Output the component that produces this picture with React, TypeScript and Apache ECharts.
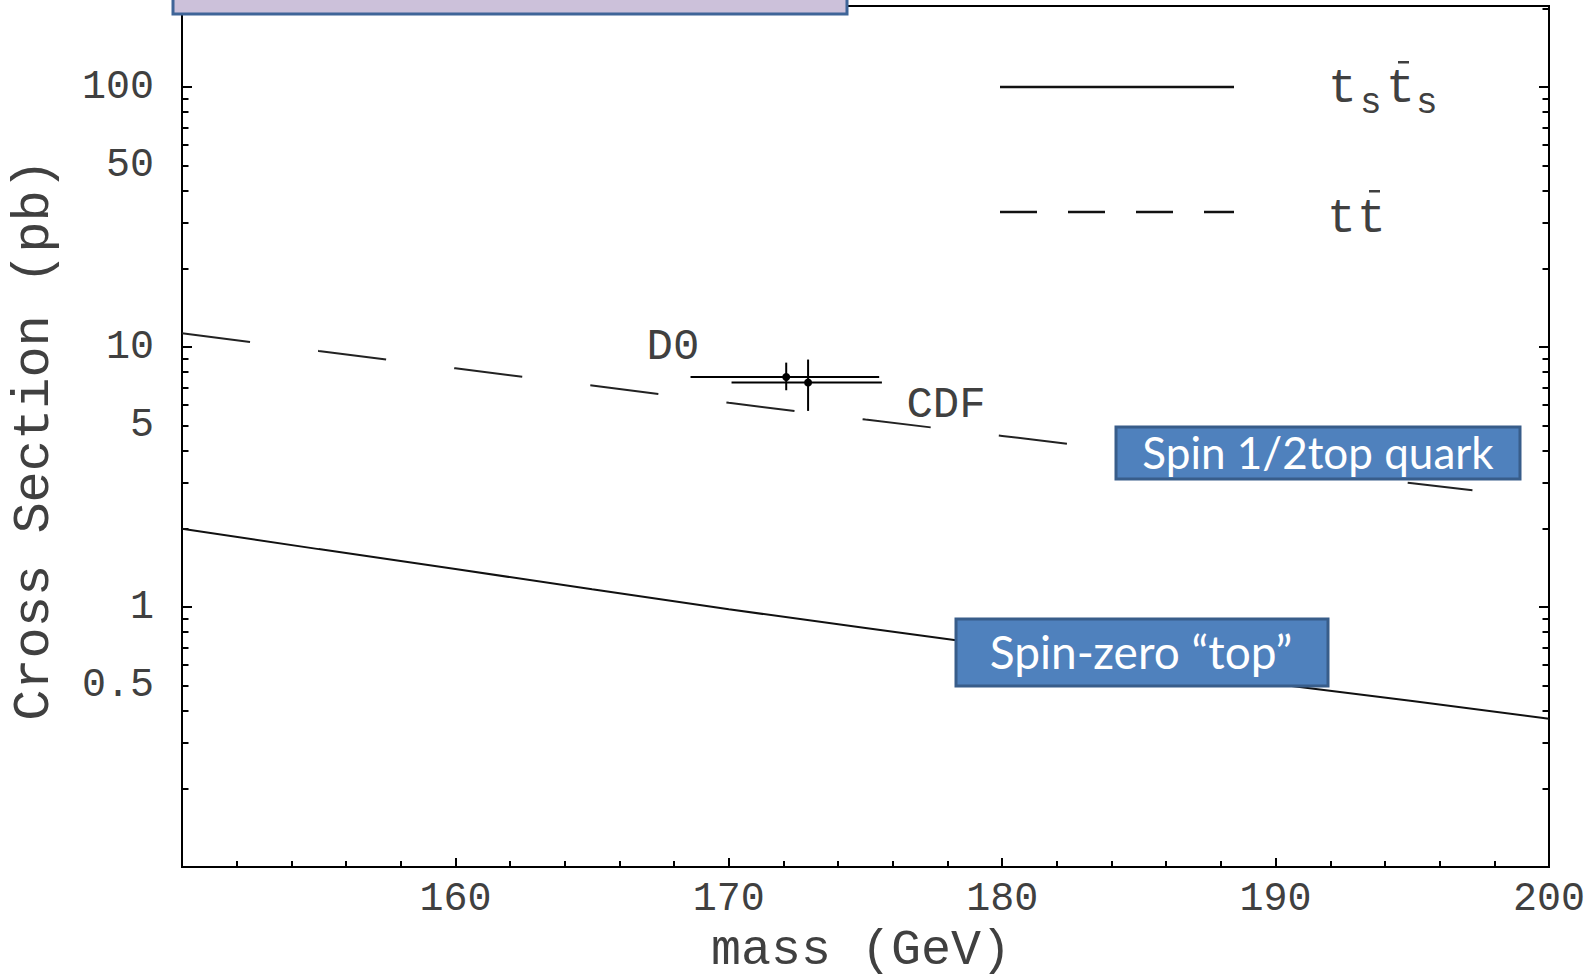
import React, { useEffect, useRef } from "react";
import * as echarts from "echarts";

// ---- data ----
const massGrid = [150, 155, 160, 165, 170, 175, 180, 185, 190, 195, 200];
const spinZeroXs = [2.0, 1.67, 1.4, 1.17, 0.98, 0.83, 0.705, 0.597, 0.506, 0.435, 0.372];
const ttMass = [150, 155, 160, 165, 170, 175, 180, 185, 190, 195, 197.2];
const ttXs = [11.3, 9.66, 8.28, 7.11, 6.1, 5.26, 4.55, 3.94, 3.43, 2.99, 2.81];

const expNames = ["D0", "CDF"];
const expMass = [172.1, 172.9];
const expXs = [7.67, 7.3];
const expMassLo = [168.6, 170.1];
const expMassHi = [175.5, 175.6];
const expXsLo = [6.82, 5.68];
const expXsHi = [8.71, 8.95];

const xTickLabels = [160, 170, 180, 190, 200];
const yLabelValues = [0.5, 1, 5, 10, 50, 100];
const yMajorTicks = [1, 10, 100];
const yMinorTicks = [
  0.2, 0.3, 0.4, 0.5, 0.6, 0.7, 0.8, 0.9,
  2, 3, 4, 5, 6, 7, 8, 9,
  20, 30, 40, 50, 60, 70, 80, 90, 200,
];

const MONO = "'Liberation Mono', 'DejaVu Sans Mono', monospace";
const SANS = "Lato, 'Open Sans', sans-serif";
const TXT = "#404040";

function yAxisDef(position: "left" | "right", ticks: number[], len: number, labels: boolean) {
  return {
    type: "log",
    logBase: 10,
    min: 0.1,
    max: 205,
    position,
    axisLine: { show: true, lineStyle: { color: "#000", width: 2 } },
    axisTick: {
      show: true,
      inside: true,
      length: len,
      customValues: ticks,
      lineStyle: { color: "#000", width: 2 },
    },
    minorTick: { show: false },
    splitLine: { show: false },
    axisLabel: labels
      ? {
          show: true,
          customValues: yLabelValues,
          margin: 28,
          fontFamily: MONO,
          fontSize: 40,
          color: TXT,
          formatter: (v: number) => String(v),
        }
      : { show: false },
  };
}

export default function App() {
  const ref = useRef<HTMLDivElement>(null);
  useEffect(() => {
    if (!ref.current) return;
    const chart = echarts.init(ref.current, undefined, { renderer: "svg" });

    const solidData = massGrid.map((m, i) => [m, spinZeroXs[i]]);
    const dashData = ttMass.map((m, i) => [m, ttXs[i]]);
    const expData = expMass.map((m, i) => [m, expXs[i], expMassLo[i], expMassHi[i], expXsLo[i], expXsHi[i]]);

    chart.setOption({
      animation: false,
      backgroundColor: "#fff",
      grid: {
        left: 182,
        right: 46,
        top: 6,
        bottom: 113,
        show: true,
        borderColor: "#000",
        borderWidth: 2,
        containLabel: false,
      },
      xAxis: {
        type: "value",
        min: 150,
        max: 200,
        interval: 10,
        axisLine: { show: true, lineStyle: { color: "#000", width: 2 } },
        axisTick: { show: true, inside: true, length: 9, lineStyle: { color: "#000", width: 2 } },
        minorTick: { show: true, splitNumber: 5, length: 6, lineStyle: { color: "#000", width: 2 } },
        splitLine: { show: false },
        axisLabel: {
          show: true,
          margin: 12,
          fontFamily: MONO,
          fontSize: 40,
          color: TXT,
          showMinLabel: false,
          formatter: (v: number) => (xTickLabels.includes(v) ? String(v) : ""),
        },
      },
      yAxis: [
        yAxisDef("left", yMajorTicks, 10, true),
        yAxisDef("left", yMinorTicks, 6.5, false),
        yAxisDef("right", yMajorTicks, 10, false),
        yAxisDef("right", yMinorTicks, 6.5, false),
      ],
      series: [
        {
          type: "line",
          name: "tsts",
          data: solidData,
          yAxisIndex: 0,
          showSymbol: false,
          symbol: "none",
          lineStyle: { color: "#111", width: 2 },
          z: 3,
        },
        {
          type: "line",
          name: "tt",
          data: dashData,
          yAxisIndex: 0,
          showSymbol: false,
          symbol: "none",
          lineStyle: { color: "#222", width: 2, type: [68.6, 68.6] },
          z: 3,
        },
        {
          type: "custom",
          name: "exp",
          yAxisIndex: 0,
          data: expData,
          encode: { x: 0, y: 1 },
          z: 4,
          renderItem: (params: any, api: any) => {
            const c = api.coord([api.value(0), api.value(1)]);
            const l = api.coord([api.value(2), api.value(1)]);
            const r = api.coord([api.value(3), api.value(1)]);
            const lo = api.coord([api.value(0), api.value(4)]);
            const hi = api.coord([api.value(0), api.value(5)]);
            const st = { stroke: "#000", lineWidth: 2 };
            return {
              type: "group",
              children: [
                { type: "line", shape: { x1: l[0], y1: l[1], x2: r[0], y2: r[1] }, style: st },
                { type: "line", shape: { x1: lo[0], y1: lo[1], x2: hi[0], y2: hi[1] }, style: st },
                { type: "circle", shape: { cx: c[0], cy: c[1], r: 4 }, style: { fill: "#000" } },
              ],
            };
          },
        },
      ],
      graphic: [
        // axis titles
        {
          type: "text",
          x: 861,
          y: 950,
          style: { text: "mass (GeV)", fontFamily: MONO, fontSize: 50, fill: TXT, align: "center", verticalAlign: "middle" },
        },
        {
          type: "text",
          x: 34,
          y: 440,
          rotation: Math.PI / 2,
          style: { text: "Cross Section (pb)", fontFamily: MONO, fontSize: 52, fill: TXT, align: "center", verticalAlign: "middle" },
        },
        // experiment labels
        {
          type: "text",
          x: 673,
          y: 347,
          style: { text: expNames[0], fontFamily: MONO, fontSize: 44, fill: TXT, align: "center", verticalAlign: "middle" },
        },
        {
          type: "text",
          x: 946,
          y: 405,
          style: { text: expNames[1], fontFamily: MONO, fontSize: 44, fill: TXT, align: "center", verticalAlign: "middle" },
        },
        // legend
        { type: "line", shape: { x1: 1000, y1: 87, x2: 1234, y2: 87 }, style: { stroke: "#111", lineWidth: 2.5 } },
        { type: "line", shape: { x1: 1000, y1: 212, x2: 1234, y2: 212 }, style: { stroke: "#111", lineWidth: 2.5, lineDash: [37, 31] } },
        { type: "text", x: 1328, y: 89, style: { text: "t", fontFamily: MONO, fontSize: 48, fill: TXT, verticalAlign: "middle" } },
        { type: "text", x: 1360, y: 103, style: { text: "s", fontFamily: MONO, fontSize: 36, fill: TXT, verticalAlign: "middle" } },
        { type: "text", x: 1386, y: 89, style: { text: "t", fontFamily: MONO, fontSize: 48, fill: TXT, verticalAlign: "middle" } },
        { type: "rect", shape: { x: 1398, y: 61, width: 11, height: 2.5 }, style: { fill: TXT } },
        { type: "text", x: 1416, y: 103, style: { text: "s", fontFamily: MONO, fontSize: 36, fill: TXT, verticalAlign: "middle" } },
        { type: "text", x: 1327, y: 219, style: { text: "t", fontFamily: MONO, fontSize: 48, fill: TXT, verticalAlign: "middle" } },
        { type: "text", x: 1357, y: 219, style: { text: "t", fontFamily: MONO, fontSize: 48, fill: TXT, verticalAlign: "middle" } },
        { type: "rect", shape: { x: 1369, y: 190, width: 11, height: 2.5 }, style: { fill: TXT } },
        // callout boxes
        {
          type: "rect",
          shape: { x: 173, y: -20, width: 674, height: 34 },
          style: { fill: "#CCC1DA", stroke: "#3F6598", lineWidth: 3 },
          z: 10,
        },
        {
          type: "rect",
          shape: { x: 1116, y: 427, width: 404, height: 52 },
          style: { fill: "#4F81BD", stroke: "#385D8A", lineWidth: 3 },
          z: 10,
        },
        {
          type: "text",
          x: 1318,
          y: 452,
          z: 11,
          style: { text: "Spin 1/2top quark", fontFamily: SANS, fontSize: 44, fill: "#fff", align: "center", verticalAlign: "middle" },
        },
        {
          type: "rect",
          shape: { x: 956, y: 619, width: 372, height: 67 },
          style: { fill: "#4F81BD", stroke: "#385D8A", lineWidth: 3 },
          z: 10,
        },
        {
          type: "text",
          x: 1141,
          y: 651,
          z: 11,
          style: { text: "Spin-zero \u201Ctop\u201D", fontFamily: SANS, fontSize: 46, fill: "#fff", align: "center", verticalAlign: "middle" },
        },
      ],
    });
    return () => chart.dispose();
  }, []);

  return (
    <div
      ref={ref}
      style={{ position: "absolute", left: 0, top: 0, width: 1595, height: 980, background: "#fff" }}
    />
  );
}
